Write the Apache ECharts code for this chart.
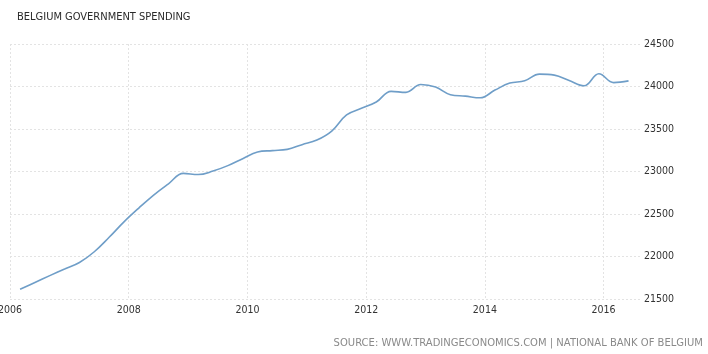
<!DOCTYPE html>
<html>
<head>
<meta charset="utf-8">
<script src="https://cdn.jsdelivr.net/npm/echarts@6/dist/echarts.min.js"></script>
<style>
html,body{margin:0;padding:0;background:#fff;}
#c{width:708px;height:354px;}
</style>
</head>
<body>
<div id="c"></div>
<script>
// Quarterly observations (decimal year positions)
const startYear = 2006.17;
const quarterStep = 0.25;
const spending = [
  21614, 21695, 21775, 21852, 21929, 22056, 22226, 22407, 22570, 22723,
  22855, 22978, 22964, 23005, 23069, 23151, 23230, 23246, 23260, 23316,
  23370, 23476, 23666, 23743, 23817, 23943, 23931, 24023, 23993, 23904,
  23887, 23867, 23958, 24040, 24067, 24146, 24134, 24070, 24008, 24150,
  24046, 24066
];
const yTicks = [21500, 22000, 22500, 23000, 23500, 24000, 24500];
const xTickYears = [2006, 2008, 2010, 2012, 2014, 2016];
const titleText = 'BELGIUM GOVERNMENT SPENDING';
const sourceText = 'SOURCE: WWW.TRADINGECONOMICS.COM | NATIONAL BANK OF BELGIUM';

const seriesData = spending.map((v, i) => [startYear + i * quarterStep, v]);

const chart = echarts.init(document.getElementById('c'), null, {renderer: 'canvas'});
const condFam = "'DejaVu Sans Condensed', 'DejaVu Sans', sans-serif";
const fontFam = "'DejaVu Sans', sans-serif";
chart.setOption({
  animation: false,
  backgroundColor: '#fff',
  title: [
    {text: titleText, left: 12, top: 7,
     textStyle: {fontFamily: condFam, fontSize: 11, fontWeight: 'normal', color: '#2a2a2a'}},
    {text: sourceText, right: 0, top: 333,
     textStyle: {fontFamily: fontFam, fontSize: 10, fontWeight: 'normal', color: '#8a8a8a'}}
  ],
  grid: {left: 10, right: 67, top: 44, bottom: 55, containLabel: false, outerBoundsMode: 'none'},
  xAxis: {
    type: 'value',
    min: 2006, max: 2016.63, interval: 2,
    axisLine: {show: false}, axisTick: {show: false},
    axisLabel: {
      showMaxLabel: false, margin: 6,
      fontFamily: condFam, fontSize: 10.5, color: '#333',
      formatter: v => xTickYears.includes(Math.round(v)) && Math.abs(v - Math.round(v)) < 1e-6 ? String(Math.round(v)) : ''
    },
    splitLine: {show: true, showMaxLine: false, lineStyle: {color: '#e3e3e3', type: [2, 2], width: 1}}
  },
  yAxis: {
    type: 'value', position: 'right',
    min: yTicks[0], max: yTicks[yTicks.length - 1], interval: 500,
    axisLine: {show: false}, axisTick: {show: false},
    axisLabel: {margin: 3, fontFamily: condFam, fontSize: 10.5, color: '#333',
      formatter: v => String(v)},
    splitLine: {show: true, lineStyle: {color: '#e3e3e3', type: [2, 2], width: 1}}
  },
  series: [{
    type: 'line', data: seriesData, smooth: 0.4, showSymbol: false,
    lineStyle: {color: '#6f9ec8', width: 1.6}
  }]
});
</script>
</body>
</html>
